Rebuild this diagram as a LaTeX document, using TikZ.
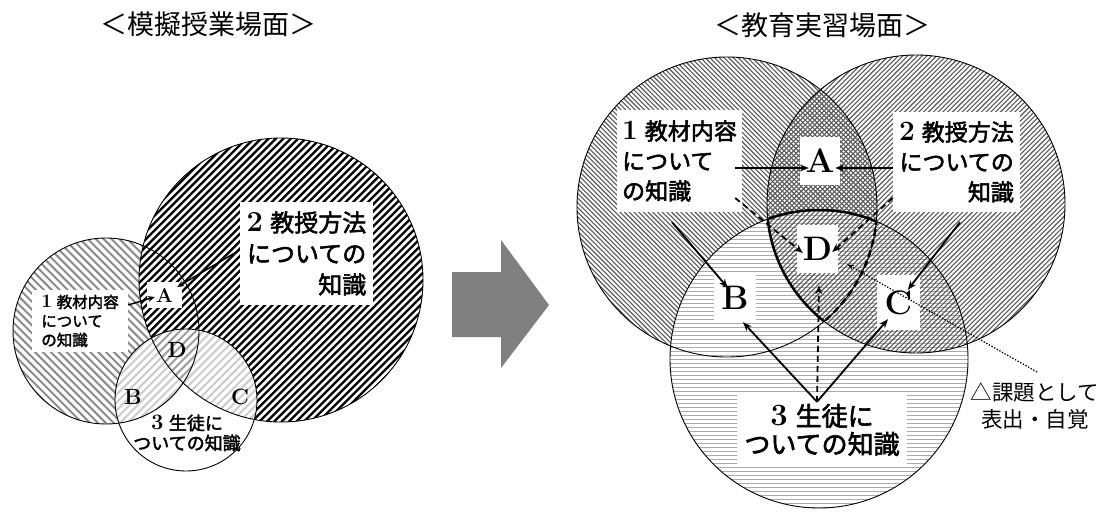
\documentclass[tikz,border=0pt]{standalone}
\usepackage{fontspec}
\newfontfamily\cjk{Noto Sans CJK JP}
\newfontfamily\cjkbold[BoldFont={Noto Sans CJK JP},BoldFeatures={FakeBold=2.2}]{Noto Sans CJK JP}
\newcommand\jpb{\cjkbold\bfseries}
\newcommand\dg[2]{{\fontsize{#1}{#1}\selectfont\bfseries #2}}
\usetikzlibrary{arrows.meta,calc}
% hatch a circle: #1 cx, #2 cy, #3 r, #4 horizontal step, #5 dir (1 = /, -1 = \, 0 = horizontal), #6 style
\newcommand\hatchcirc[6]{%
  \begin{scope}
    \clip (#1,#2) circle[radius=#3];
    \pgfmathtruncatemacro\hatchN{3*#3/#4}
    \foreach \k in {0,...,\hatchN}{
      \pgfmathsetmacro\hatchT{-1.5*#3+\k*#4}
      \ifnum#5=0
        \pgfmathsetmacro\hatchXa{#1-#3}
        \pgfmathsetmacro\hatchYa{#2+\hatchT}
        \pgfmathsetmacro\hatchXb{#1+#3}
        \pgfmathsetmacro\hatchYb{#2+\hatchT}
      \else
        \pgfmathsetmacro\hatchXa{#1+\hatchT-#3}
        \pgfmathsetmacro\hatchYa{#2+#5*#3}
        \pgfmathsetmacro\hatchXb{#1+\hatchT+#3}
        \pgfmathsetmacro\hatchYb{#2-#5*#3}
      \fi
      \draw[#6] (\hatchXa,\hatchYa) -- (\hatchXb,\hatchYb);
    }
  \end{scope}}
\begin{document}
\begin{tikzpicture}[x=1pt,y=-1pt,
  outline/.style={draw=black,line width=0.9pt},
  wbox/.style={fill=white,inner sep=0pt},
  letter/.style={font=\fontsize{#1}{#1}\selectfont\bfseries,inner sep=0pt},
  sarrow/.style={line width=1.8pt,-{Stealth[length=9pt,width=7pt]}},
  larrow/.style={line width=1.5pt,-{Stealth[length=7pt,width=6pt]}},
  darrow/.style={sarrow,dash pattern=on 6pt off 4pt},
  dotarrow/.style={line width=1.2pt,dash pattern=on 1.4pt off 1.6pt,-{Stealth[length=7pt,width=5pt]}},
  lens/.style={line width=2.5pt},
  lensdash/.style={line width=2.5pt,dash pattern=on 7pt off 4pt},
  blockarrow/.style={fill=black!50},
  hLone/.style={line width=2pt,draw=black!45},
  hLtwo/.style={line width=2.3pt,draw=black},
  hLthreelight/.style={line width=2pt,draw=black!20},
  hLthreemid/.style={line width=2pt,draw=black!38},
  hRone/.style={line width=1.1pt,draw=black!65},
  hRtwo/.style={line width=1.1pt,draw=black!65},
  hRthree/.style={line width=1.4pt,draw=black!33}
]
\useasboundingbox (0,0) rectangle (1102,511);

% ---------- titles ----------
\node[font=\fontsize{27}{27}\selectfont\cjk] (TL) at (208,24) {＜模擬授業場面＞};
\node[font=\fontsize{27}{27}\selectfont\cjk] (TR) at (822,25) {＜教育実習場面＞};

% ---------- left diagram ----------
\hatchcirc{106}{331}{93}{7.9}{-1}{hLone}
\fill[white] (281,280) circle[radius=142];
\hatchcirc{281}{280}{142}{7.4}{1}{hLtwo}
\fill[white] (186,400) circle[radius=71];
\begin{scope}
  \clip (106,331) circle[radius=93];
  \hatchcirc{186}{400}{71}{7.9}{1}{hLthreelight}
\end{scope}
\begin{scope}
  \clip (281,280) circle[radius=142];
  \hatchcirc{186}{400}{71}{7.9}{1}{hLthreelight}
\end{scope}
\begin{scope}
  \clip (106,331) circle[radius=93];
  \clip (281,280) circle[radius=142];
  \fill[white] (186,400) circle[radius=71];
  \hatchcirc{186}{400}{71}{7.9}{1}{hLthreemid}
\end{scope}
\draw[outline] (106,331) circle[radius=93];
\draw[outline] (281,280) circle[radius=142];
\draw[outline] (186,400) circle[radius=71];

\node[wbox,minimum width=133pt,minimum height=103pt,align=right,
      font=\fontsize{24}{31}\selectfont] (L2) at (306.5,253.5)
  {\dg{29}{2} {\jpb 教授方法}\\{\jpb についての}\\{\jpb 知識}};
\node[wbox,minimum width=96pt,minimum height=62pt,align=left,
      font=\fontsize{15.5}{19}\selectfont] (L1) at (80,321)
  {\dg{19}{1} {\jpb 教材内容}\\{\jpb について}\\{\jpb の知識}};
\node[wbox,minimum width=35pt,minimum height=26pt,letter=20] (LA) at (164.5,295) {A};
\node[letter=22] (LD) at (177,350) {D};
\node[letter=22] (LB) at (133,397) {B};
\node[letter=22] (LC) at (240,397) {C};
\node[inner sep=0pt,align=center,font=\fontsize{18}{20}\selectfont] (L3) at (187,433)
  {\dg{22}{3} {\jpb 生徒に}\\{\jpb ついての知識}};

\draw[larrow] ($(L1.east)+(0,-16)$) -- ($(LA.west)+(8,2)$);
\draw[larrow] ($(L2.west)+(0,-3.5)$) -- ($(LA.east)+(-5,-8)$);

% ---------- block arrow ----------
\fill[blockarrow] (452,272) -- (501,272) -- (501,240) -- (549,305) -- (501,368) -- (501,337) -- (452,337) -- cycle;

% ---------- right diagram ----------
\hatchcirc{727}{207}{150}{4.7}{-1}{hRone}
\fill[white] (819,359) circle[radius=149];
\hatchcirc{819}{359}{149}{4}{0}{hRthree}
\hatchcirc{916}{204}{149}{4.8}{1}{hRtwo}
\draw[outline] (727,207) circle[radius=150];
\draw[outline] (916,204) circle[radius=149];
\draw[outline] (819,359) circle[radius=149];

% lens D outline
\begin{scope}
  \clip (727,207) circle[radius=150];
  \clip (916,204) circle[radius=149];
  \draw[lens] (819,359) circle[radius=149];
\end{scope}
\begin{scope}
  \clip (727,207) circle[radius=150];
  \clip (819,359) circle[radius=149];
  \draw[lens] (916,204) circle[radius=149];
\end{scope}
\begin{scope}
  \clip (916,204) circle[radius=149];
  \clip (819,359) circle[radius=149];
  \draw[lensdash] (727,207) circle[radius=150];
\end{scope}

\node[wbox,minimum width=125pt,minimum height=102pt,align=left,
      font=\fontsize{23}{30}\selectfont] (R1) at (679.5,161)
  {\dg{28}{1} {\jpb 教材内容}\\{\jpb について}\\{\jpb の知識}};
\node[wbox,minimum width=127pt,minimum height=100pt,align=right,
      font=\fontsize{23}{30}\selectfont] (R2) at (956.5,162)
  {\dg{28}{2} {\jpb 教授方法}\\{\jpb についての}\\{\jpb 知識}};
\node[wbox,minimum width=170pt,minimum height=70pt,align=center,
      font=\fontsize{26}{28}\selectfont] (R3) at (822,430)
  {\dg{31}{3} {\jpb 生徒に}\\{\jpb ついての知識}};
\node[wbox,minimum width=40pt,minimum height=48pt,letter=34] (RA) at (820,161) {A};
\node[wbox,minimum width=41pt,minimum height=48pt,letter=34] (RD) at (817.5,249) {D};
\node[wbox,minimum width=42pt,minimum height=50pt,letter=34] (RB) at (735,298) {B};
\node[wbox,minimum width=43pt,minimum height=55pt,letter=34] (RC) at (898.5,302.5) {C};
\node[inner sep=0pt,align=center,font=\fontsize{21.5}{27}\selectfont\cjk] (note) at (1035,406)
  {△課題として\\表出・自覚};
\coordinate (noteend) at (1037,372);

\draw[sarrow] ($(R1.east)+(-7,7)$) -- ($(RA.west)+(9,7)$);
\draw[sarrow] ($(R2.west)+(0,6)$) -- ($(RA.east)+(-5,7)$);
\draw[darrow] ($(R1.east)+(-7,37)$) -- ($(RD.west)+(6,4)$);
\draw[darrow] ($(R2.west)+(0,36)$) -- ($(RD.east)+(-6,3)$);
\draw[sarrow] ($(R1.south)+(-7.5,10)$) -- ($(RB.north west)+(14,15)$);
\draw[sarrow] ($(R2.south)+(3.5,10)$) -- ($(RC.north west)+(31,15)$);
\draw[sarrow] ($(R3.north)+(-5,7)$) -- ($(RB.south)+(8,-1)$);
\draw[sarrow] ($(R3.north)+(-5,7)$) -- ($(RC.south)+(-10.5,-11)$);
\draw[darrow] ($(R3.north)+(-5,7)$) -- ($(RD.south)+(1.5,12)$);
\draw[dotarrow] (noteend) -- ($(RD.south east)+(9,-9)$);
\end{tikzpicture}
\end{document}
